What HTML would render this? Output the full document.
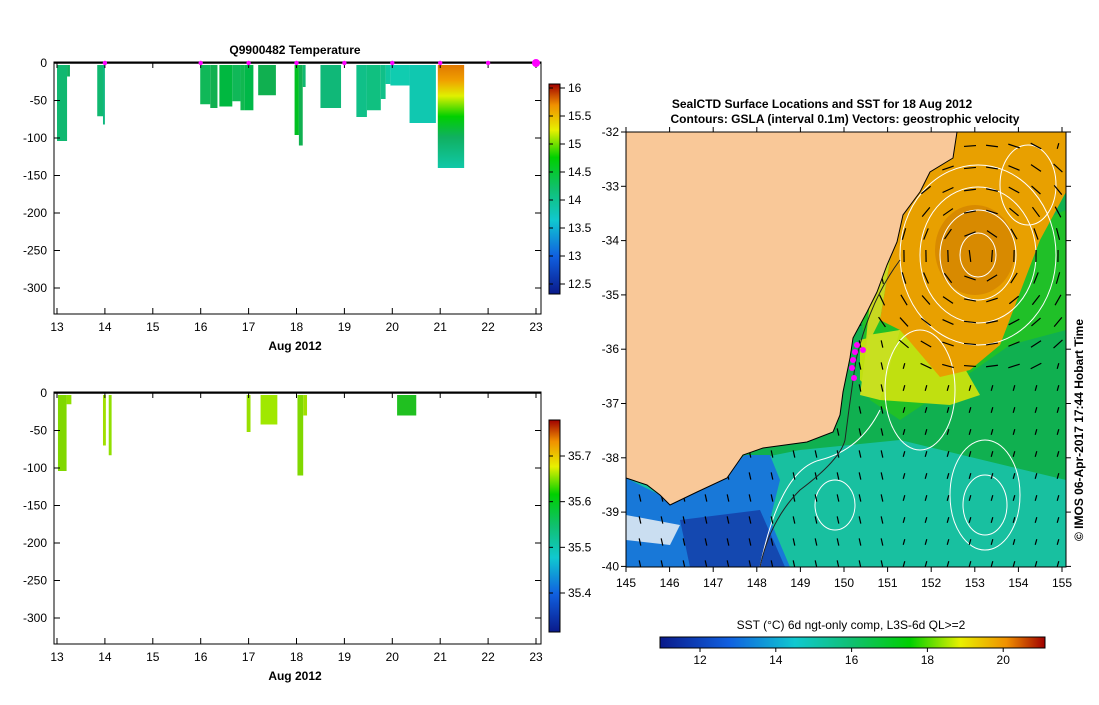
<!DOCTYPE html>
<html><head><meta charset="utf-8"><style>
body{margin:0;background:#fff;font-family:"Liberation Sans",sans-serif}
svg text{font-family:"Liberation Sans",sans-serif;font-size:12px;fill:#000}
</style></head><body>
<svg id="s" width="1099" height="700" xmlns="http://www.w3.org/2000/svg">
<defs>
<linearGradient id="tg" x1="0" y1="1" x2="0" y2="0">
<stop offset="0" stop-color="#0a1a8a"/><stop offset="0.18" stop-color="#1060e0"/><stop offset="0.35" stop-color="#10c8d0"/><stop offset="0.5" stop-color="#10c070"/><stop offset="0.65" stop-color="#00d000"/><stop offset="0.78" stop-color="#e8f000"/><stop offset="0.9" stop-color="#f09000"/><stop offset="1" stop-color="#a00000"/></linearGradient>
<linearGradient id="hg" x1="0" y1="0" x2="1" y2="0">
<stop offset="0" stop-color="#0a1a8a"/><stop offset="0.18" stop-color="#1060e0"/><stop offset="0.35" stop-color="#10c8d0"/><stop offset="0.5" stop-color="#10c070"/><stop offset="0.65" stop-color="#00d000"/><stop offset="0.78" stop-color="#e8f000"/><stop offset="0.9" stop-color="#f09000"/><stop offset="1" stop-color="#a00000"/></linearGradient>
<linearGradient id="pg" x1="0" y1="0" x2="0" y2="1">
<stop offset="0" stop-color="#e07800"/><stop offset="0.15" stop-color="#f0a000"/><stop offset="0.3" stop-color="#e0f000"/><stop offset="0.5" stop-color="#00d000"/><stop offset="0.7" stop-color="#10b060"/><stop offset="1" stop-color="#10c8a8"/></linearGradient>
<clipPath id="mc"><rect x="626" y="132" width="440" height="435"/></clipPath>
</defs>
<g id="top"></g><g id="bot"></g><g id="map"></g>
</svg>
<script>
const S=document.getElementById('s');const NS='http://www.w3.org/2000/svg';
function el(t,a,p){const e=document.createElementNS(NS,t);for(const k in a)e.setAttribute(k,a[k]);(p||S).appendChild(e);return e;}
function tx(x,y,s,anchor,p,extra){const e=el('text',Object.assign({x:x,y:y,'text-anchor':anchor||'middle'},extra||{}),p);e.textContent=s;return e;}

// ---- data ----
const days=[13,14,15,16,17,18,19,20,21,22,23];
const depthTicks=[0,-50,-100,-150,-200,-250,-300];
const tempTicks=[16,15.5,15,14.5,14,13.5,13,12.5];
const salTicks=[35.7,35.6,35.5,35.4];
const stationDays=[14,16,17,18,19,20,21,22,23];
// temperature profiles: start day, end day, max depth (m), colour
const tStart=[13.0,13.21,13.84,13.96,15.99,16.2,16.39,16.66,16.83,16.91,17.2,17.96,18.05,18.13,18.5,19.25,19.47,19.76,19.86,19.96,20.36,20.95];
const tEnd  =[13.21,13.27,13.96,14.0,16.2,16.35,16.66,16.83,16.91,17.1,17.57,18.05,18.13,18.19,18.93,19.47,19.76,19.86,19.96,20.36,20.91,21.5];
const tDepth=[104,18,71,82,55,60,58,51,63,63,43,96,110,32,60,72,63,48,28,30,80,140];
const tColor=['#10b870','#10b060','#10b870','#10b880','#10b858','#10b050','#00b840','#10b858','#10b850','#00b848','#10b050','#00c020','#10b050','#10b870','#10b878','#10c088','#10c080','#10c088','#10c8a0','#10ccb0','#10c8b0','url(#pg)'];
// salinity profiles
const sStart=[13.02,13.2,13.96,14.08,16.96,17.25,18.02,18.14,20.1];
const sEnd  =[13.2,13.3,14.02,14.14,17.04,17.6,18.14,18.22,20.5];
const sDepth=[104,15,70,83,52,42,110,30,30];
const sColor=['#80d800','#90e000','#a0e000','#90e000','#98e000','#a0e800','#80d800','#a0e000','#20c020'];

function panel(g,y0,prefix,starts,ends,depths,colors,cbTicks,cbMin,cbMax,cbTop,cbBot,cbTop0,cbBot0){
  const X=d=>57+(d-13)*47.9, Y=v=>y0+1-v*0.75;
  for(let i=0;i<starts.length;i++){
    const r=el('rect',{x:X(starts[i]),y:Y(0)+2,width:X(ends[i])-X(starts[i]),height:Y(-depths[i])-Y(0)-2,fill:colors[i]},g);
    
    
  }
  const ax=el('rect',{x:54,y:y0,width:487,height:252,fill:'none',stroke:'#000','stroke-width':1},g);
  
  el('line',{x1:54,y1:Y(0),x2:541,y2:Y(0),stroke:'#000','stroke-width':1.5},g);
  days.forEach(d=>{el('line',{x1:X(d),y1:y0+252,x2:X(d),y2:y0+246,stroke:'#000'},g);el('line',{x1:X(d),y1:y0,x2:X(d),y2:y0+6,stroke:'#000'},g);
    const t=tx(X(d),y0+269,String(d),'middle',g);});
  depthTicks.forEach(v=>{el('line',{x1:54,y1:Y(v),x2:60,y2:Y(v),stroke:'#000'},g);el('line',{x1:541,y1:Y(v),x2:535,y2:Y(v),stroke:'#000'},g);
    const t=tx(47,Y(v)+4,String(v),'end',g);});
  const xl=tx(295,y0+288,'Aug 2012','middle',g,{'font-weight':'bold'});
  const cb=el('rect',{x:549,y:cbTop0,width:11,height:cbBot0-cbTop0,fill:'url(#tg)',stroke:'#000'},g);
  
  cbTicks.forEach(v=>{const yy=cbTop+(cbMax-v)/(cbMax-cbMin)*(cbBot-cbTop);
    el('line',{x1:560,y1:yy,x2:565,y2:yy,stroke:'#000'},g);el('line',{x1:549,y1:yy,x2:553,y2:yy,stroke:'#000'},g);
    const t=tx(568,yy+4,String(v),'start',g);});
  return X;
}
const gt=document.getElementById('top'),gb=document.getElementById('bot');
const Xt=panel(gt,62,'temperature',tStart,tEnd,tDepth,tColor,tempTicks,12.5,16,88,284,84,294);
const tt=tx(295,54,'Q9900482  Temperature','middle',gt,{'font-weight':'bold'});
stationDays.forEach(d=>{const c=el('circle',{cx:Xt(d),cy:63,r:d==23?4:2.2,fill:'#ff00ff'},gt);});
panel(gb,392,'salinity',sStart,sEnd,sDepth,sColor,salTicks,35.4,35.7,456,593,420,632);

// ---- map ----
const gm=document.getElementById('map');
const MX=l=>626+(l-145)*43.6, MY=la=>132+(-32-la)*54.3;
const t1=tx(822,108,'SealCTD Surface Locations and SST for 18 Aug 2012','middle',gm,{'font-weight':'bold'});
const t2=tx(845,123,'Contours: GSLA (interval 0.1m) Vectors: geostrophic velocity','middle',gm,{'font-weight':'bold'});
const m=el('g',{'clip-path':'url(#mc)'},gm);

el('rect',{x:626,y:132,width:440,height:435,fill:'#10b050'},m);
el('path',{d:'M626 470 L700 470 L800 450 L900 440 L1066 480 L1066 567 L626 567Z',fill:'#18c0a0'},m);
el('path',{d:'M860 300 L1066 210 L1066 330 L1010 345 L960 380 L900 420 L870 400Z',fill:'#20c028'},m);
el('path',{d:'M626 478 L660 495 L700 490 L745 455 L770 455 L780 480 L770 520 L790 567 L626 567Z',fill:'#1878d8'},m);
el('path',{d:'M680 520 L760 510 L785 567 L690 567Z',fill:'#1448b0'},m);
el('path',{d:'M626 515 L680 525 L670 545 L626 540Z',fill:'#f8f8f8',opacity:0.8},m);
el('path',{d:'M860 340 L900 330 L960 360 L980 395 L950 405 L880 400 L860 380Z',fill:'#c0e010'},m);
el('path',{d:'M955 132 L1066 132 L1066 192 L1040 240 L1000 345 L970 370 L940 377 L900 330 L880 320 L890 260 L905 210 L930 170Z',fill:'#e8a000'},m);
el('ellipse',{cx:975,cy:250,rx:40,ry:45,fill:'#d88a00'},m);
el('path',{d:'M955 132 L930 170 L905 210 L890 260 L880 320 L865 350 L870 300 L880 270 L895 230 L920 180Z',fill:'#c8d820'},m);
el('path',{d:'M868 335 L900 330 L880 400 L860 395Z',fill:'#c8e020'},m);
[[978,255,18,22],[978,255,38,45],[978,255,58,68],[978,255,78,90],[1028,185,28,40],[835,505,20,25],[985,505,22,30],[985,495,35,55],[920,390,35,60]].forEach(c=>{
  const e=el('ellipse',{cx:c[0],cy:c[1],rx:c[2],ry:c[3],fill:'none',stroke:'#fff','stroke-width':1},m);});
el('path',{d:'M760 567 Q780 470 820 460 Q860 450 880 410',fill:'none',stroke:'#fff'},m);
for(let x=640;x<1066;x+=22)for(let y=146;y<567;y+=22){
  const dx=x-978,dy=y-255,r=Math.hypot(dx,dy);let ux,uy;
  if(r<130){ux=dy/r;uy=-dx/r;}else{ux=0.2;uy=(x<900)?0.9:-0.7;}
  const L=r<130?6:4;const a=el('line',{x1:x-ux*L,y1:y-uy*L,x2:x+ux*L,y2:y+uy*L,stroke:'#000','stroke-width':1.2},m);
  }
const land=el('path',{d:'M626 132 L957 132 L953 158 L930 172 L920 192 L903 215 L897 242 L887 265 L877 292 L867 312 L853 338 L850 358 L843 392 L840 415 L833 432 L807 442 L763 448 L743 455 L727 478 L697 492 L670 505 L660 495 L647 485 L626 478Z',fill:'#f9c898',stroke:'#000','stroke-width':1},m);

el('path',{d:'M760 567 Q770 520 800 490 Q840 460 845 440 Q850 400 856 360 Q870 300 900 260',fill:'none',stroke:'#222','stroke-width':1},m);
[[855,352],[853,360],[852,368],[854,378],[857,345],[863,350]].forEach(p=>{const c=el('circle',{cx:p[0],cy:p[1],r:3,fill:'#ff00ff'},m);});
el('rect',{x:626,y:132,width:440,height:435,fill:'none',stroke:'#000'},gm);
for(let l=145;l<=155;l++){el('line',{x1:MX(l),y1:567,x2:MX(l),y2:572,stroke:'#000'},gm);el('line',{x1:MX(l),y1:132,x2:MX(l),y2:127,stroke:'#000'},gm);
  const t=tx(MX(l),587,String(l),'middle',gm);}
for(let la=-32;la>=-40;la--){el('line',{x1:621,y1:MY(la),x2:626,y2:MY(la),stroke:'#000'},gm);el('line',{x1:1066,y1:MY(la),x2:1071,y2:MY(la),stroke:'#000'},gm);
  const t=tx(619,MY(la)+4,String(la),'end',gm);}
const st=tx(1083,430,'© IMOS 06-Apr-2017 17:44 Hobart Time','middle',gm,{transform:'rotate(-90 1083 430)','font-weight':'bold','font-size':'13'});
const sstT=[12,14,16,18,20];
const ct=tx(851,629,'SST (°C) 6d ngt-only comp, L3S-6d QL>=2','middle',gm);
const hb=el('rect',{x:660,y:637,width:385,height:11,fill:'url(#hg)',stroke:'#000'},gm);
sstT.forEach(v=>{const x=700+(v-12)*37.9;el('line',{x1:x,y1:648,x2:x,y2:652,stroke:'#000'},gm);
  const t=tx(x,664,String(v),'middle',gm);});
</script>
</body></html>
